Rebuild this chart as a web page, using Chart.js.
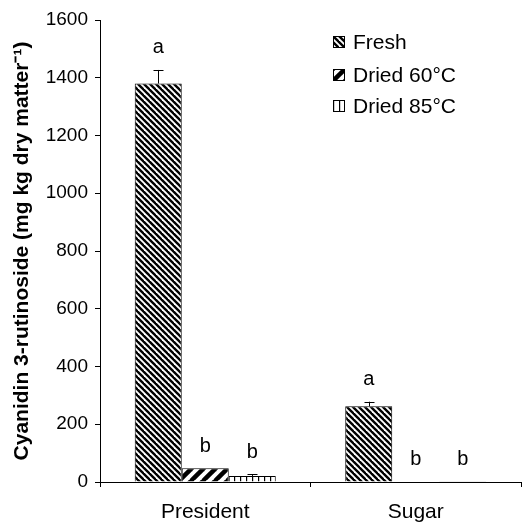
<!DOCTYPE html>
<html><head><meta charset="utf-8">
<script src="https://cdn.jsdelivr.net/npm/chart.js@4.4.0/dist/chart.umd.min.js"></script>
<style>html,body{margin:0;padding:0;background:#fff}#wrap{width:522px;height:523px;position:relative}</style>
</head><body><div id="wrap"><canvas id="c"></canvas></div>
<script>
const categories = ['President', 'Sugar'];
const seriesNames = ['Fresh', 'Dried 60°C', 'Dried 85°C'];
const fresh = [1380, 262];
const dried60 = [48, 2];
const dried85 = [21, 1];
const freshErr = [47, 16];
const dried60Err = [0, 0];
const dried85Err = [6, 0];
const freshLetters = ['a', 'a'];
const dried60Letters = ['b', 'b'];
const dried85Letters = ['b', 'b'];
const yTicks = [0, 200, 400, 600, 800, 1000, 1200, 1400, 1600];

const FONT = '"Liberation Sans", Arial, sans-serif';

function makePattern(kind) {
  const c = document.createElement('canvas');
  const ctx = c.getContext('2d');
  if (kind === 'fresh') {
    const s = 6; c.width = s; c.height = s;
    ctx.fillStyle = '#fff'; ctx.fillRect(0, 0, s, s);
    ctx.strokeStyle = '#000'; ctx.lineWidth = 2.4;
    for (let k = -1; k <= 1; k++) {
      ctx.beginPath(); ctx.moveTo(k * s - 1, -1); ctx.lineTo(k * s + s + 1, s + 1); ctx.stroke();
    }
  } else if (kind === 'd60') {
    const s = 12; c.width = s; c.height = s;
    ctx.fillStyle = '#fff'; ctx.fillRect(0, 0, s, s);
    ctx.strokeStyle = '#000'; ctx.lineWidth = 4.5;
    for (let k = -1; k <= 1; k++) {
      ctx.beginPath(); ctx.moveTo(k * s - 1, s + 1); ctx.lineTo(k * s + s + 1, -1); ctx.stroke();
    }
  } else {
    const s = 6; c.width = s; c.height = s;
    ctx.fillStyle = '#fff'; ctx.fillRect(0, 0, s, s);
    ctx.fillStyle = '#000'; ctx.fillRect(0, 0, 1.2, s);
  }
  return document.getElementById('c').getContext('2d').createPattern(c, 'repeat');
}

const patterns = [makePattern('fresh'), makePattern('d60'), makePattern('d85')];
const errs = [freshErr, dried60Err, dried85Err];
const letters = [freshLetters, dried60Letters, dried85Letters];

const annotPlugin = {
  id: 'annot',
  afterDatasetsDraw(chart) {
    const ctx = chart.ctx;
    const y = chart.scales.y;
    ctx.save();
    chart.data.datasets.forEach((ds, i) => {
      const meta = chart.getDatasetMeta(i);
      meta.data.forEach((bar, j) => {
        const v = ds.data[j];
        const e = errs[i][j];
        const topVal = v + e;
        const topPx = y.getPixelForValue(topVal);
        if (e > 0) {
          ctx.strokeStyle = '#000'; ctx.lineWidth = 1;
          const x = Math.round(bar.x) + 0.5;
          ctx.beginPath();
          ctx.moveTo(x, bar.y); ctx.lineTo(x, topPx);
          ctx.moveTo(x - 5, Math.round(topPx) + 0.5); ctx.lineTo(x + 5, Math.round(topPx) + 0.5);
          ctx.stroke();
        }
        ctx.fillStyle = '#000';
        ctx.font = '20px ' + FONT;
        ctx.textAlign = 'center'; ctx.textBaseline = 'middle';
        ctx.fillText(letters[i][j], bar.x, topPx - 22);
      });
    });
    // legend
    const lx = 333, ly = [42, 75, 106];
    chart.data.datasets.forEach((ds, i) => {
      const by = ly[i] - 6;
      ctx.fillStyle = patterns[i];
      ctx.save(); ctx.translate(lx, by);
      ctx.fillRect(0, 0, 12, 12);
      ctx.restore();
      ctx.strokeStyle = '#000'; ctx.lineWidth = 1;
      ctx.strokeRect(lx + 0.5, by + 0.5, 11, 11);
      ctx.fillStyle = '#000';
      ctx.font = '21px ' + FONT;
      ctx.textAlign = 'left'; ctx.textBaseline = 'middle';
      ctx.fillText(ds.label, lx + 20, ly[i] + 1);
    });
    ctx.restore();
  }
};

const datasets = [fresh, dried60, dried85].map((d, i) => ({
  label: seriesNames[i],
  data: d,
  backgroundColor: patterns[i],
  borderColor: '#000',
  borderWidth: 1,
  borderSkipped: 'bottom',
  categoryPercentage: 0.67,
  barPercentage: 1.0
}));

new Chart(document.getElementById('c'), {
  type: 'bar',
  data: { labels: categories, datasets },
  plugins: [annotPlugin],
  options: {
    responsive: true,
    maintainAspectRatio: false,
    animation: false,
    layout: { padding: { top: 20, right: 1, left: 0, bottom: 0 } },
    plugins: { legend: { display: false }, tooltip: { enabled: false } },
    scales: {
      x: {
        grid: { display: true, drawOnChartArea: false, drawTicks: true, tickLength: 5, color: '#000', offset: true },
        border: { display: true, color: '#000', width: 1 },
        ticks: { color: '#000', font: { family: FONT, size: 21 }, padding: 13 },
        afterFit(s) { s.height = 41; }
      },
      y: {
        min: 0, max: 1600,
        afterBuildTicks(s) { s.ticks = yTicks.map(v => ({ value: v })); },
        grid: { display: true, drawOnChartArea: false, drawTicks: true, tickLength: 5, color: '#000' },
        border: { display: true, color: '#000', width: 1 },
        ticks: { color: '#000', font: { family: FONT, size: 19 }, padding: 7, callback: v => String(v) },
        title: { display: true, text: 'Cyanidin 3-rutinoside (mg kg dry matter⁻¹)', color: '#000', font: { family: FONT, size: 21, weight: 'bold' }, padding: { top: 10, bottom: 4 } },
        afterFit(s) { s.width = 100; }
      }
    }
  }
});
</script></body></html>
